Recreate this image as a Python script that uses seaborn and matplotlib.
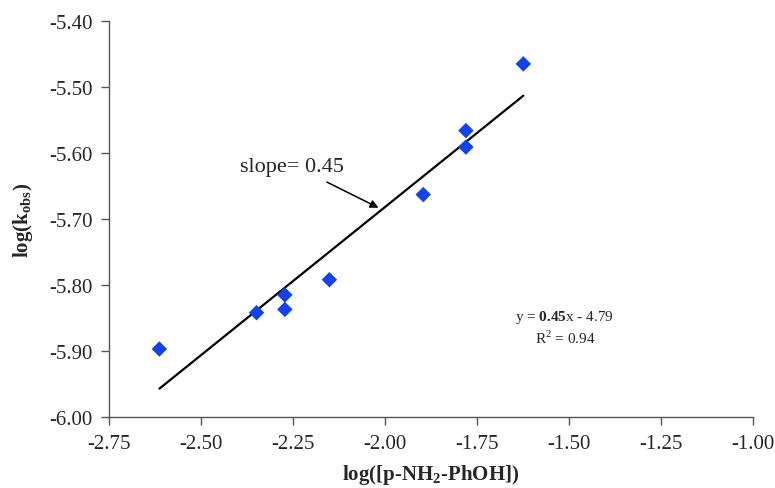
import numpy as np
import pandas as pd
import seaborn as sns
import matplotlib
matplotlib.use("Agg")
import matplotlib.pyplot as plt

# data
log_conc = [-2.613, -2.349, -2.272, -2.272, -2.151, -1.896, -1.780, -1.780, -1.624]
log_kobs = [-5.897, -5.842, -5.815, -5.837, -5.792, -5.663, -5.566, -5.591, -5.465]
x_ticks = [-2.75, -2.50, -2.25, -2.00, -1.75, -1.50, -1.25, -1.00]
y_ticks = [-6.00, -5.90, -5.80, -5.70, -5.60, -5.50, -5.40]

sns.set_theme(style="ticks")
plt.rcParams['font.family'] = ['Liberation Serif', 'DejaVu Serif']
plt.rcParams['mathtext.fontset'] = 'custom'
plt.rcParams['mathtext.rm'] = 'Liberation Serif'
plt.rcParams['mathtext.bf'] = 'Liberation Serif:bold'

df = pd.DataFrame({"x": log_conc, "y": log_kobs})

fig = plt.figure(figsize=(7.75, 4.89), dpi=100)
ax = fig.add_axes([0.1406, 0.1452, 0.8310, 0.8098])

sns.regplot(data=df, x="x", y="y", ax=ax, ci=None, marker="D",
            scatter_kws=dict(s=62, color="#1042ee", alpha=1, edgecolors="none", zorder=3),
            line_kws=dict(color="black", lw=1.6, zorder=2))

ax.set_xlim(-2.75, -1.00)
ax.set_ylim(-6.00, -5.40)
ax.set_xticks(x_ticks)
ax.set_yticks(y_ticks)
ax.set_xticklabels([f"{v:.2f}" for v in x_ticks])
ax.set_yticklabels([f"{v:.2f}" for v in y_ticks])
ax.tick_params(axis="both", labelsize=15, direction="out", length=6, width=1, color="#555555", pad=6)
for s in ["top", "right"]:
    ax.spines[s].set_visible(False)
for s in ["left", "bottom"]:
    ax.spines[s].set_color("#555555")
    ax.spines[s].set_linewidth(1)

ax.set_xlabel(r"log([p-NH$_\mathbf{2}$-PhOH])", fontsize=15, fontweight="bold", labelpad=7)
ax.set_ylabel(r"log(k$_\mathbf{obs}$)", fontsize=15, fontweight="bold", labelpad=10)

ax.text(-2.394, -5.620, "slope= 0.45", fontsize=16, ha="left", va="center")
ax.annotate("", xy=(-2.0175, -5.683), xytext=(-2.158, -5.644),
            arrowprops=dict(arrowstyle="-|>", color="black", lw=1.1,
                            shrinkA=0, shrinkB=0, mutation_scale=12))

ax.text(-1.511, -5.848, r"y = $\mathbf{0.45}$x - 4.79", fontsize=11, ha="center", va="center")
ax.text(-1.511, -5.879, r"R$^2$ = 0.94", fontsize=11, ha="center", va="center")

fig.savefig("out.png", dpi=100)
